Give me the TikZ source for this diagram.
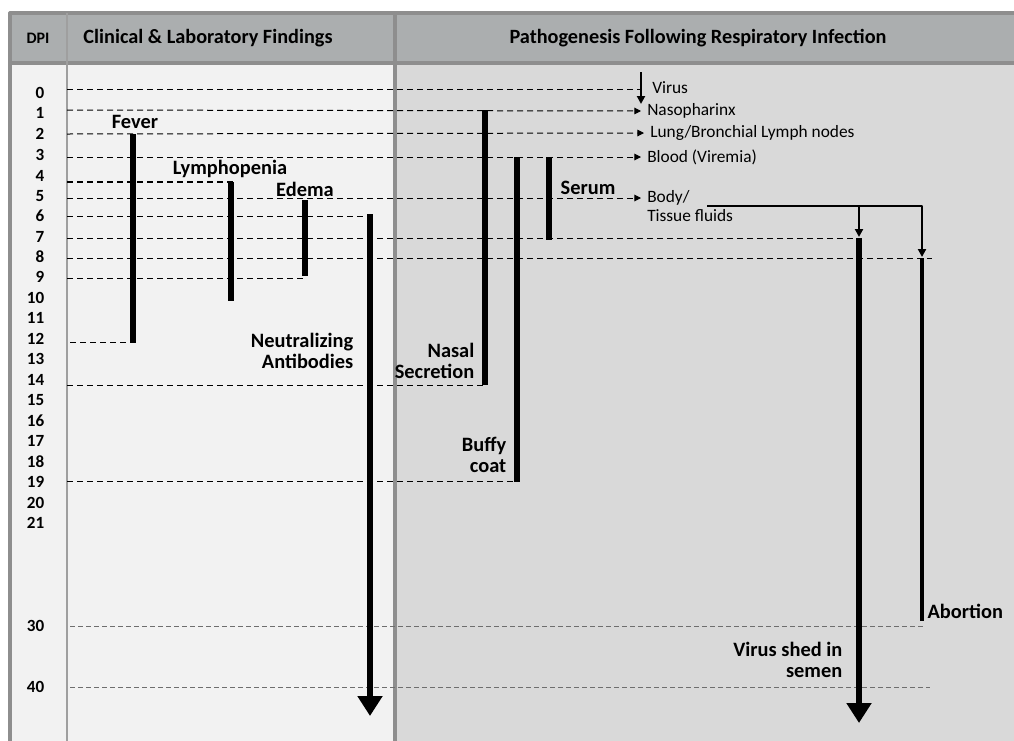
\documentclass[tikz,border=0pt]{standalone}
\usepackage{fontspec}
\setmainfont{Carlito}
\usetikzlibrary{arrows.meta}
\usetikzlibrary{positioning}

\definecolor{framegray}{HTML}{8E8E8E}
\definecolor{headgray}{HTML}{ABAEAF}
\definecolor{leftpane}{HTML}{F2F2F2}
\definecolor{rightpane}{HTML}{D9D9D9}
\definecolor{lightdash}{HTML}{6E6E6E}

\tikzset{
  bar/.style={line width=3.9pt,line cap=butt},
  bigarrow/.style={line width=3.9pt,line cap=butt,-{Triangle[width=18pt,length=15pt]}},
  smallarrow/.style={line width=1.6pt,-{Triangle[width=6pt,length=6pt]}},
  dline/.style={line width=0.75pt,dash pattern=on 4.5pt off 3pt},
  dtip/.style={dline,-{Triangle[width=5pt,length=5pt]}},
  gline/.style={line width=0.7pt,dash pattern=on 3.5pt off 2.5pt,lightdash},
  hdr/.style={font=\fontsize{15.2}{17}\selectfont\bfseries},
  daynum/.style={anchor=east,font=\fontsize{12.8}{14}\selectfont\bfseries},
  biglab/.style={font=\fontsize{15.3}{15.8}\selectfont\bfseries},
  smalllab/.style={anchor=west,font=\fontsize{13}{14.2}\selectfont,inner xsep=4.5pt,inner ysep=1pt}
}

\begin{document}
\begin{tikzpicture}[line join=round,x=0.75pt,y=-0.75pt]
\useasboundingbox (0,0) rectangle (1014,740);
\fill[white] (0,0) rectangle (1014,740);
\fill[leftpane] (10,13) rectangle (395,745);
\fill[rightpane] (395,13) rectangle (1020,745);
\fill[headgray] (10,13) rectangle (1020,63);
\draw[framegray,line width=2.4pt] (10,745) -- (10,13) -- (1020,13);
\draw[framegray,line width=2.4pt] (10,63) -- (1020,63);
\draw[framegray!85,line width=2.2pt] (67,13) -- (67,745);
\draw[framegray,line width=2.4pt] (395,13) -- (395,745);

\node[hdr,font=\fontsize{12}{14}\selectfont\bfseries] (dpi) at (38,38) {DPI};
\node[hdr] (clin) at (208,38) {Clinical \& Laboratory Findings};
\node[hdr] (patho) at (698,38) {Pathogenesis Following Respiratory Infection};

\foreach \d/\y in {0/93,1/113,2/134,3/155,4/176,5/196,6/216,7/237,8/257,9/277,10/298,
  11/318,12/339,13/359,14/380,15/400,16/421,17/441,18/462,19/482,20/503,21/523,30/626,40/687}
  \node[daynum] (day\d) at (49,\y) {\d};

\node[smalllab] (virus) at (646,88) {Virus};
\node[smalllab] (naso) at (641,111) {Nasopharinx};
\node[smalllab] (lung) at (644,133) {Lung/Bronchial Lymph nodes};
\node[smalllab] (blood) at (641,157) {Blood (Viremia)};
\node[smalllab,align=left] (body) at (641,206) {Body/\\Tissue fluids};

\draw[dline] (67,89) -- (640,89);
\draw[dtip] (67,110) -- (naso.west);
\draw[dtip] (67,134) -- (lung.west);
\draw[dtip] (67,157) -- (blood.west);
\draw[line width=1pt,dash pattern=on 4.5pt off 3pt] (67,182) -- (233,182);
\draw[dtip] (67,198) -- (body.west |- 0,198);
\draw[dline] (67,216) -- (372,216);
\draw[dline] (67,238) -- (858,238);
\draw[dline] (67,258) -- (932,258);
\draw[dline] (67,278) -- (307,278);
\draw[dline] (70,342) -- (133,342);
\draw[dline] (67,385) -- (485,385);
\draw[dline] (67,481) -- (517,481);
\draw[gline] (70,626) -- (925,626);
\draw[gline] (70,687) -- (930,687);

\node[biglab] (fever) at (135,122) {Fever};
\node[biglab] (lympho) at (230,169) {Lymphopenia};
\node[biglab] (edema) at (305,189) {Edema};
\node[biglab,align=right,anchor=east] (nab) at (358,351) {Neutralizing\\Antibodies};
\node[biglab,align=right,anchor=east] (nasal) at (479,361) {Nasal\\Secretion};
\node[biglab,align=right,anchor=east] (buffy) at (511,455) {Buffy\\coat};
\node[biglab,anchor=west] (serum) at (556,188) {Serum};
\node[biglab,align=right,anchor=east] (shed) at (847,660) {Virus shed in\\semen};
\node[biglab,anchor=west,inner sep=1pt] (abort) at (926,611) {Abortion};

\draw[bar] (133,134) -- (133,343);
\draw[bar] (231,182) -- (231,301);
\draw[bar] (305,200) -- (305,276);
\draw[bigarrow] (370,214) -- (370,716);
\draw[bar] (485,110) -- (485,385);
\draw[bar] (517,157) -- (517,482);
\draw[bar] (549,157) -- (549,240);
\draw[bigarrow] (859,238) -- (859,723);
\draw[line width=3pt,line cap=butt] (922,258) -- (922,621);

\draw[smallarrow] (641,72) -- (641,104);
\draw[line width=2.2pt] (707,206) -- (922,206) -- (922,214);
\draw[smallarrow] (859,206) -- (859,237);
\draw[smallarrow] (922,206) -- (922,257);
\end{tikzpicture}
\end{document}
